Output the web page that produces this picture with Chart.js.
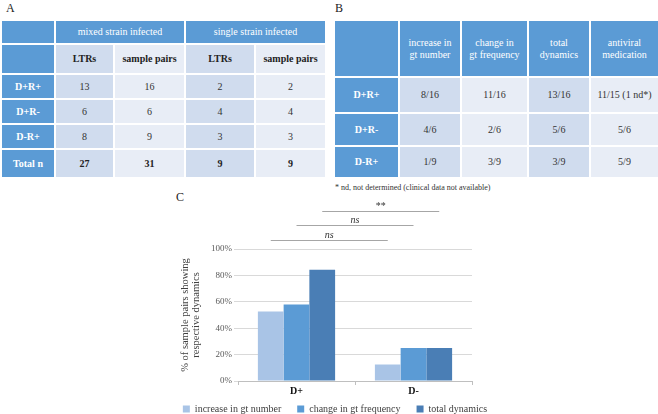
<!DOCTYPE html>
<html>
<head>
<meta charset="utf-8">
<script src="https://cdn.jsdelivr.net/npm/chart.js@4.4.1/dist/chart.umd.min.js"></script>
<style>
  body { margin: 0; width: 658px; height: 414px; background: #fff; position: relative; overflow: hidden;
         font-family: "Liberation Serif", "DejaVu Serif", serif; }
  .lbl { position: absolute; font-size: 12px; color: #222; }
  table { position: absolute; border-collapse: collapse; table-layout: fixed; font-size: 10px; }
  td { border: 2px solid #fff; text-align: center; vertical-align: middle; padding: 0; color: #333; line-height: 12px; }
  td.hd { background: #5b9bd5; color: #fff; }
  td.rh { background: #5b9bd5; color: #fff; font-weight: bold; }
  td.dk { background: #d0dcee; }
  td.lt { background: #e8edf6; }
  td.b { font-weight: bold; color: #222; }
  #note { position: absolute; left: 335px; top: 183px; font-size: 8px; color: #333; }
  #wrap { position: absolute; left: 150px; top: 190px; width: 370px; height: 244px; }
</style>
</head>
<body>
<div class="lbl" style="left:6px;top:1px;">A</div>
<div class="lbl" style="left:335px;top:1px;">B</div>
<div class="lbl" style="left:176px;top:190px;">C</div>
<table id="tabA" style="left:0;top:19px;width:325px;"></table>
<table id="tabB" style="left:333px;top:19px;width:325px;"></table>
<div id="note">* nd, not determined (clinical data not available)</div>
<div id="wrap"><canvas id="myChart" width="370" height="244"></canvas></div>
<script>
// table A
var aGroups = ["mixed strain infected", "single strain infected"];
var aCols = ["LTRs", "sample pairs", "LTRs", "sample pairs"];
var aRows = ["D+R+", "D+R-", "D-R+", "Total n"];
var aLTRmix = [13, 6, 8, 27];
var aPairsMix = [16, 6, 9, 31];
var aLTRsingle = [2, 4, 3, 9];
var aPairsSingle = [2, 4, 3, 9];

// table B
var bCols = ["increase in<br>gt number", "change in<br>gt frequency", "total<br>dynamics", "antiviral<br>medication"];
var bRows = ["D+R+", "D+R-", "D-R+"];
var bIncrease = ["8/16", "4/6", "1/9"];
var bChange = ["11/16", "2/6", "3/9"];
var bTotal = ["13/16", "5/6", "3/9"];
var bAntiviral = ["11/15 (1 nd*)", "5/6", "5/9"];

// chart C
var groups = ["D+", "D-"];
var increaseGt = [52.6, 12.5];
var changeGt = [57.9, 25.0];
var totalDyn = [84.2, 25.0];
var sigLabels = ["ns", "ns", "**"];
var sigLevels = [107, 118, 129];

var serif = "'Liberation Serif', 'DejaVu Serif', serif";

function buildTables() {
  var shade = ["dk", "lt", "dk", "lt"];
  var h = '<colgroup><col style="width:54px"><col style="width:59px"><col style="width:71px"><col style="width:70px"><col style="width:71px"></colgroup>';
  h += '<tr style="height:24px"><td class="hd"></td><td class="hd" colspan="2">' + aGroups[0] + '</td><td class="hd" colspan="2">' + aGroups[1] + '</td></tr>';
  h += '<tr style="height:30px"><td class="hd"></td>';
  aCols.forEach(function(c, i) { h += '<td class="' + shade[i] + ' b">' + c + '</td>'; });
  h += '</tr>';
  aRows.forEach(function(r, i) {
    var last = (i == aRows.length - 1);
    var vals = [aLTRmix[i], aPairsMix[i], aLTRsingle[i], aPairsSingle[i]];
    h += '<tr style="height:' + (last ? 29 : 25) + 'px"><td class="rh">' + r + '</td>';
    vals.forEach(function(v, j) { h += '<td class="' + shade[j] + (last ? ' b' : '') + '">' + v + '</td>'; });
    h += '</tr>';
  });
  document.getElementById("tabA").innerHTML = h;

  var g = '<colgroup><col style="width:65px"><col style="width:62px"><col style="width:67px"><col style="width:62px"><col style="width:69px"></colgroup>';
  g += '<tr style="height:57px"><td class="hd"></td>';
  bCols.forEach(function(c) { g += '<td class="hd" style="line-height:12px">' + c + '</td>'; });
  g += '</tr>';
  var heights = [36, 33, 32];
  bRows.forEach(function(r, i) {
    var vals = [bIncrease[i], bChange[i], bTotal[i], bAntiviral[i]];
    g += '<tr style="height:' + heights[i] + 'px"><td class="rh">' + r + '</td>';
    vals.forEach(function(v, j) { g += '<td class="' + shade[j] + '">' + v + '</td>'; });
    g += '</tr>';
  });
  document.getElementById("tabB").innerHTML = g;
}
buildTables();

// significance brackets between matching bars of the two groups
const sigPlugin = {
  id: "sig",
  afterDatasetsDraw(chart) {
    var ctx = chart.ctx;
    var y = chart.scales.y;
    ctx.save();
    for (var i = 0; i < sigLabels.length; i++) {
      var bars = chart.getDatasetMeta(i).data;
      var x1 = bars[0].x, x2 = bars[1].x;
      var py = Math.round(y.getPixelForValue(sigLevels[i])) + 0.5;
      ctx.strokeStyle = "#a6a6a6";
      ctx.lineWidth = 1;
      ctx.beginPath();
      ctx.moveTo(x1, py);
      ctx.lineTo(x2, py);
      ctx.stroke();
      ctx.fillStyle = "#333";
      ctx.font = (sigLabels[i] == "ns" ? "italic " : "") + "10px " + serif;
      ctx.textAlign = "center";
      ctx.textBaseline = "bottom";
      ctx.fillText(sigLabels[i], (x1 + x2) / 2, py);
    }
    ctx.restore();
  }
};

// pull the legend up closer to the axis labels (legend padding also sets the item spacing)
const legendPull = {
  id: "legendPull",
  afterLayout(chart) {
    var lg = chart.legend;
    var dy = lg.top - (chart.scales.x.bottom - 10);
    lg.top -= dy;
    lg.bottom -= dy;
  }
};

const myChart = new Chart("myChart", {
  type: "bar",
  data: {
    labels: groups,
    datasets: [
    {
      label: "increase in gt number",
      data: increaseGt,
      backgroundColor: "#a9c4e6"
    },
    {
      label: "change in gt frequency",
      data: changeGt,
      backgroundColor: "#5b9bd5"
    },
    {
      label: "total dynamics",
      data: totalDyn,
      backgroundColor: "#4a7eb5"
    }]
  },
  options: {
    animation: false,
    responsive: false,
    barPercentage: 1,
    categoryPercentage: 0.66,
    layout: { padding: { top: 59, right: 0, left: 0, bottom: 0 } },
    plugins: {
      tooltip: { enabled: false },
      legend: {
        position: "bottom",
        labels: {
          boxWidth: 7,
          boxHeight: 7,
          padding: 16,
          color: "#404040",
          font: { family: serif, size: 10 }
        }
      }
    },
    scales: {
      x: {
        afterFit: function(s) { s.height = 17; },
        grid: { display: true, offset: true, drawOnChartArea: false, tickLength: 4, color: "#bfbfbf" },
        border: { color: "#bfbfbf" },
        ticks: { color: "#111", padding: 0, font: { family: serif, size: 10, weight: "bold" } }
      },
      y: {
        min: 0,
        max: 100,
        afterFit: function(s) { s.width = 88; },
        grid: { color: "#d9d9d9", tickLength: 4 },
        border: { display: false },
        ticks: { stepSize: 20, color: "#595959", padding: 2, callback: function(v) { return v + "%"; },
                 font: { family: serif, size: 9 } },
        title: {
          display: true,
          text: ["% of sample pairs showing", "respective dynamics"],
          color: "#404040",
          padding: { top: 30, bottom: 0 },
          font: { family: serif, size: 10.5, lineHeight: 1.05 }
        }
      },
      y2: {
        position: "right",
        afterFit: function(s) { s.width = 48; },
        grid: { display: false },
        border: { display: false },
        ticks: { display: false }
      }
    }
  },
  plugins: [sigPlugin, legendPull]
});
</script>
</body>
</html>
